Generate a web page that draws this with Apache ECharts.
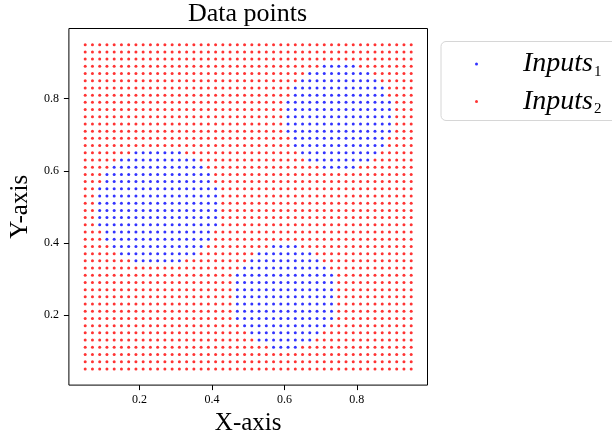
<!DOCTYPE html>
<html>
<head>
<meta charset="utf-8">
<script src="https://cdn.jsdelivr.net/npm/echarts@6/dist/echarts.min.js"></script>
<style>
  html, body { margin: 0; padding: 0; background: #fff; }
  #chart { width: 612px; height: 441px; }
</style>
</head>
<body>
<div id="chart"></div>
<script>
// Sample grid coordinates (both axes use the same grid)
const gridX = [0.05,0.07,0.09,0.11,0.13,0.15,0.17,0.19,0.21,0.23,0.25,0.27,0.29,0.31,0.33,0.35,
  0.37,0.39,0.41,0.43,0.45,0.47,0.49,0.51,0.53,0.55,0.57,0.59,0.61,0.63,0.65,0.67,0.69,0.71,
  0.73,0.75,0.77,0.79,0.81,0.83,0.85,0.87,0.89,0.91,0.93,0.95];
const gridY = gridX.slice();

// Horizontal runs of class-1 points: [y, xFrom, xTo]
const class1Runs = [
  // upper-right blob
  [0.89, 0.71, 0.79], [0.87, 0.67, 0.83], [0.85, 0.65, 0.85], [0.83, 0.63, 0.87],
  [0.81, 0.63, 0.87], [0.79, 0.61, 0.89], [0.77, 0.61, 0.89], [0.75, 0.61, 0.89],
  [0.73, 0.61, 0.89], [0.71, 0.61, 0.89], [0.69, 0.63, 0.87], [0.67, 0.63, 0.87],
  [0.65, 0.65, 0.85], [0.63, 0.67, 0.83], [0.61, 0.71, 0.79],
  // left blob
  [0.65, 0.19, 0.31], [0.63, 0.15, 0.35], [0.61, 0.13, 0.37], [0.59, 0.11, 0.39],
  [0.57, 0.11, 0.39], [0.55, 0.09, 0.41], [0.53, 0.09, 0.41], [0.51, 0.09, 0.41],
  [0.49, 0.09, 0.41], [0.47, 0.09, 0.41], [0.45, 0.09, 0.41], [0.43, 0.11, 0.39],
  [0.41, 0.11, 0.39], [0.39, 0.13, 0.37], [0.37, 0.15, 0.35], [0.35, 0.19, 0.31],
  // lower-middle blob
  [0.39, 0.57, 0.63], [0.37, 0.53, 0.67], [0.35, 0.51, 0.69], [0.33, 0.49, 0.71],
  [0.31, 0.47, 0.73], [0.29, 0.47, 0.73], [0.27, 0.47, 0.73], [0.25, 0.47, 0.73],
  [0.23, 0.47, 0.73], [0.21, 0.47, 0.73], [0.19, 0.47, 0.73], [0.17, 0.49, 0.71],
  [0.15, 0.51, 0.69], [0.13, 0.53, 0.67], [0.11, 0.57, 0.63]
];

const tickValues = [0.2, 0.4, 0.6, 0.8];
const seriesNames = ['Inputs1', 'Inputs2'];
const seriesColors = ['#0000ff', '#ff0000'];

// Split the grid into the two classes
const eps = 1e-9;
function inClass1(x, y) {
  return class1Runs.some(r => Math.abs(r[0] - y) < eps && x >= r[1] - eps && x <= r[2] + eps);
}
const inputs1 = [], inputs2 = [];
gridY.forEach(y => gridX.forEach(x => {
  (inClass1(x, y) ? inputs1 : inputs2).push([x, y]);
}));

const serif = 'Liberation Serif';
const axisCommon = {
  type: 'value',
  min: 0.005,
  max: 0.995,
  axisLine: { show: false },
  splitLine: { show: false },
  axisTick: { show: true, inside: false, length: 5, customValues: tickValues,
              lineStyle: { color: '#000', width: 1 } },
  axisLabel: { customValues: tickValues, fontFamily: serif, fontSize: 12, color: '#000',
               formatter: v => v.toFixed(1) },
  nameLocation: 'middle',
  nameTextStyle: { fontFamily: serif, fontSize: 25, color: '#000' }
};

const chart = echarts.init(document.getElementById('chart'), null, { renderer: 'canvas' });
chart.setOption({
  animation: false,
  backgroundColor: '#fff',
  grid: { left: 67.5, top: 28.5, right: 612 - 427.5, bottom: 441 - 386.5,
          show: true, borderColor: '#000', borderWidth: 1, backgroundColor: 'transparent' },
  xAxis: Object.assign({}, axisCommon, {
    name: 'X-axis', nameGap: 22,
    axisLabel: Object.assign({}, axisCommon.axisLabel, { margin: 9 })
  }),
  yAxis: Object.assign({}, axisCommon, {
    name: 'Y-axis', nameGap: 30,
    axisLabel: Object.assign({}, axisCommon.axisLabel, { margin: 10 })
  }),
  graphic: [{
    type: 'text', x: 247.5, y: 14.5,
    style: { text: 'Data points', font: '26px "Liberation Serif"', fill: '#000',
             textAlign: 'center', textVerticalAlign: 'middle' }
  }],
  legend: {
    orient: 'vertical',
    left: 441, top: 41.5,
    padding: [8.5, 24, 3.5, 34],
    itemWidth: 3, itemHeight: 3,
    itemGap: 8,
    icon: 'circle',
    borderColor: '#d6d6d6', borderWidth: 1, borderRadius: 5,
    backgroundColor: '#fff',
    data: seriesNames,
    formatter: name => '{i|Inputs}{s|' + name.slice(-1) + '}',
    textStyle: {
      rich: {
        i: { fontFamily: serif, fontStyle: 'italic', fontSize: 28, color: '#000',
             padding: [0, 0, 0, 40], lineHeight: 34 },
        s: { fontFamily: serif, fontSize: 15, color: '#000', padding: [16, 0, 0, 1] }
      }
    }
  },
  series: [
    { name: seriesNames[0], type: 'scatter', data: inputs1, symbolSize: 3,
      itemStyle: { color: seriesColors[0] }, silent: true },
    { name: seriesNames[1], type: 'scatter', data: inputs2, symbolSize: 3,
      itemStyle: { color: seriesColors[1] }, silent: true }
  ]
});
</script>
</body>
</html>
